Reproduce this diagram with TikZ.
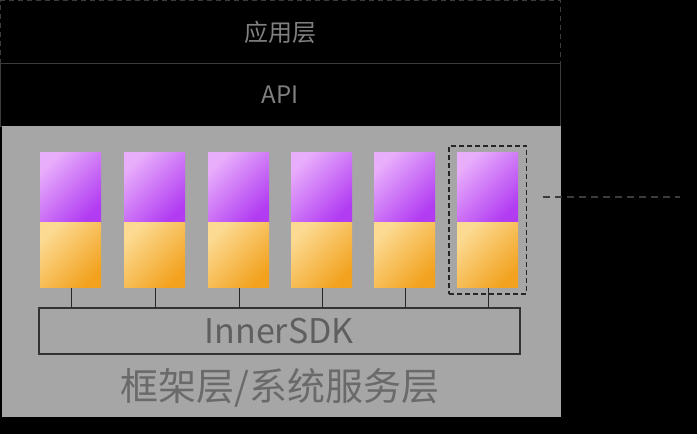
\documentclass[tikz,border=0pt]{standalone}
\usepackage{fontspec}
\setmainfont{Noto Sans CJK SC}
\usetikzlibrary{positioning,fit}
\definecolor{fwgray}{HTML}{A6A6A6}
\definecolor{rimgray}{HTML}{3C3C3C}
\definecolor{toptext}{HTML}{808080}
\definecolor{fwtext}{HTML}{6A6A6A}
\definecolor{violetA}{HTML}{E8AEFB}
\definecolor{violetB}{HTML}{B23CF2}
\definecolor{amberA}{HTML}{FCDA92}
\definecolor{amberB}{HTML}{F2A21E}
\tikzset{
  layerbox/.style={draw=rimgray,anchor=north west,inner sep=0pt,minimum width=560pt,minimum height=63pt,text=toptext,font=\fontsize{24}{28}\selectfont},
  upperbox/.style={anchor=north west,inner sep=0pt,minimum width=61pt,minimum height=70pt,top color=violetA,bottom color=violetB,shading angle=45},
  lowerbox/.style={inner sep=0pt,minimum width=61pt,minimum height=65pt,top color=amberA,bottom color=amberB,shading angle=45}
}
\begin{document}
\begin{tikzpicture}[x=1pt,y=-1pt]
    \fill[black] (0,0) rectangle (697,434);
    \useasboundingbox (0,0) rectangle (697,434);
    \node[layerbox,dash pattern=on 5pt off 4pt,line width=1pt] (app) at (0,0) {应用层};
    \node[layerbox] (api) at (0,63) {API};
    \node[fill=fwgray,anchor=north west,inner sep=0pt,minimum width=559pt,minimum height=291pt] (fw) at (2,126) {};
    \node[text=fwtext,font=\fontsize{38}{42}\selectfont] (fwlabel) at (280,388) {框架层/系统服务层};
    \node[draw=black!80,line width=1.5pt,anchor=north west,inner sep=0pt,minimum width=481pt,minimum height=46pt,text=fwtext!90!black,font=\fontsize{34}{38}\selectfont] (sdk) at (38,307) {InnerSDK};
    \foreach \i/\x in {1/40,2/124,3/208,4/291,5/374,6/457}{
        \node[upperbox] (u\i) at (\x,152) {};
        \node[lowerbox,below=0pt of u\i] (l\i) {};
        \draw[black!85] (l\i.south) -- (l\i.south |- sdk.north);
    }
    \node[draw=black!85,dash pattern=on 5pt off 3pt,line width=1.5pt,fit=(u6)(l6),inner xsep=8pt,inner ysep=6pt] (pick) {};
    \coordinate (ls) at (543,197);
    \coordinate (le) at (680,197);
    \draw[rimgray,dash pattern=on 7pt off 5pt,line width=1.2pt] (ls) -- (le);
\end{tikzpicture}
\end{document}
